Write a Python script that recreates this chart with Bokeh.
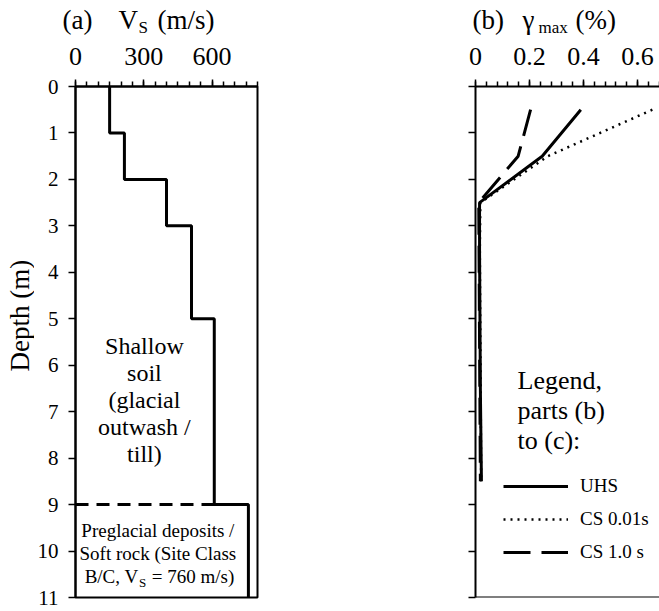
from bokeh.plotting import figure
from bokeh.layouts import row, column
from bokeh.models import Range1d, FixedTicker, Label, Legend, LegendItem, Span
from bokeh.embed import file_html
from bokeh.resources import INLINE
import math

FONT = "Liberation Serif"

# ---------------- data: panel (a) shear-wave velocity profile ----------------
layer_top = [0, 1, 2, 3, 5, 9]
layer_bottom = [1, 2, 3, 5, 9, 11]
vs_values = [150, 215, 400, 510, 610, 760]
boundary_depth = 9

depth_ticks = [0, 1, 2, 3, 4, 5, 6, 7, 8, 9, 10, 11]
vs_major_ticks = [0, 300, 600]
vs_minor_ticks = [0, 50, 100, 150, 200, 250, 300, 350, 400, 450, 500, 550, 600, 650, 700, 750, 800]

# ---------------- data: panel (b) maximum shear strain ----------------
gamma_depth = [0.5, 1.5, 2.5, 3.5, 4.5, 5.5, 6.5, 7.5, 8.5]
gamma_uhs = [0.39, 0.247, 0.015, 0.015, 0.016, 0.017, 0.018, 0.020, 0.022]
gamma_cs001 = [0.655, 0.268, 0.018, 0.016, 0.017, 0.018, 0.019, 0.020, 0.021]
gamma_cs10 = [0.204, 0.158, 0.012, 0.013, 0.014, 0.015, 0.016, 0.017, 0.018]
gamma_major_ticks = [0, 0.2, 0.4, 0.6]
gamma_minor_ticks = [0, 0.04, 0.08, 0.12, 0.16, 0.2, 0.24, 0.28, 0.32, 0.36, 0.4,
                     0.44, 0.48, 0.52, 0.56, 0.6, 0.64, 0.68]

TITLE_H = 38
H = 611 - TITLE_H
STRIP_W = 34


def blank_fig(w, h):
    f = figure(width=w, height=h, x_range=Range1d(0, w), y_range=Range1d(h, 0),
               x_axis_type=None, y_axis_type=None, toolbar_location=None,
               output_backend="svg", min_border=0)
    f.outline_line_color = None
    f.xgrid.visible = False
    f.ygrid.visible = False
    return f


def lab(p, x, y, text, size, align="left", angle=0.0):
    p.add_layout(Label(x=x, y=y, text=text, text_font=FONT, text_font_size=f"{size}px",
                       text_align=align, text_baseline="alphabetic", text_color="black",
                       angle=angle))


def style_axes(p, top_major, top_minor, show_left_labels):
    xa = p.xaxis[0]
    xa.ticker = FixedTicker(ticks=top_major, minor_ticks=top_minor)
    xa.axis_line_width = 2
    xa.major_tick_line_width = 1.5
    xa.minor_tick_line_width = 1.5
    xa.major_tick_in = 0
    xa.minor_tick_in = 0
    xa.major_tick_out = 7
    xa.minor_tick_out = 5
    xa.major_label_text_font = FONT
    xa.major_label_text_font_size = "26px"
    xa.major_label_text_color = "black"
    xa.major_label_standoff = 15
    ya = p.yaxis[0]
    ya.axis_line_width = 2
    if show_left_labels:
        ya.ticker = FixedTicker(ticks=depth_ticks, minor_ticks=[])
        ya.major_tick_line_width = 1.5
        ya.major_tick_in = 0
        ya.major_tick_out = 7
        ya.major_label_text_font = FONT
        ya.major_label_text_font_size = "21px"
        ya.major_label_text_color = "black"
        ya.major_label_standoff = 10
    else:
        ya.ticker = FixedTicker(ticks=[], minor_ticks=depth_ticks)
        ya.minor_tick_line_width = 1.5
        ya.minor_tick_in = 0
        ya.minor_tick_out = 7
    p.xgrid.visible = False
    p.ygrid.visible = False


# Label y is the centre of the text's em box; shift from the baseline
def em_center(baseline_px, size):
    return baseline_px - 0.3375 * size


# ---------------- title strip ----------------
tf = blank_fig(659, TITLE_H)
MAIN, SUB = 27, 17
lab(tf, 62, em_center(28.5, MAIN), "(a)", MAIN)
lab(tf, 118, em_center(28.5, MAIN), "V", MAIN)
lab(tf, 138, em_center(33, SUB), "S", SUB)
lab(tf, 157, em_center(28.5, MAIN), "(m/s)", MAIN)
lab(tf, 472, em_center(28.5, MAIN), "(b)", MAIN)
lab(tf, 522, em_center(28.5, MAIN), "\u03b3", MAIN)
lab(tf, 538, em_center(33, SUB), "max", SUB)
lab(tf, 575, em_center(28.5, MAIN), "(%)", MAIN)

# ---------------- depth label strip ----------------
df = blank_fig(STRIP_W, H)
lab(df, em_center(28.5, 27), 295 - TITLE_H, "Depth (m)", 27, align="center", angle=math.pi / 2)

# ---------------- panel (a) ----------------
A_TOP = 86
PX_PER_M_A = 513 / 11.0
pa = figure(width=400 - STRIP_W, height=H, x_range=Range1d(0, 800), y_range=Range1d(11, 0),
            x_axis_location="above", toolbar_location=None, output_backend="svg",
            min_border_left=75 - STRIP_W, min_border_right=400 - 75 - 182,
            min_border_top=A_TOP - TITLE_H, min_border_bottom=12)
style_axes(pa, vs_major_ticks, vs_minor_ticks, True)
pa.outline_line_color = "black"
pa.outline_line_width = 2

xs, ys = [], []
for t, b, v in zip(layer_top, layer_bottom, vs_values):
    xs += [v, v]
    ys += [t, b]
pa.line(xs, ys, line_color="black", line_width=3)
idx = layer_bottom.index(boundary_depth)
pa.line([0, vs_values[idx]], [boundary_depth, boundary_depth], line_color="black",
        line_width=3, line_dash="13 8")


def depth_a(baseline_px, size):
    return (em_center(baseline_px, size) - A_TOP) / PX_PER_M_A


soil_lines = ["Shallow", "soil", "(glacial", "outwash /", "till)"]
for i, s in enumerate(soil_lines):
    lab(pa, 303, depth_a(355 + 27 * i, 24), s, 24, align="center")
rock_lines = ["Preglacial deposits /", "Soft rock (Site Class"]
for i, s in enumerate(rock_lines):
    lab(pa, 362, depth_a(538 + 23 * i, 19), s, 19, align="center")
lab(pa, 277, depth_a(584, 19), "B/C, V", 19, align="right")
lab(pa, 279, depth_a(588, 13), "S", 13, align="left")
lab(pa, 335, depth_a(584, 19), "= 760 m/s)", 19, align="left")

# ---------------- panel (b) ----------------
B_TOP = 84
PX_PER_M_B = 513 / 11.0
pb = figure(width=259, height=H, x_range=Range1d(0, 0.6815), y_range=Range1d(11, 0),
            x_axis_location="above", toolbar_location=None, output_backend="svg",
            min_border_left=75, min_border_right=0, min_border_top=B_TOP - TITLE_H,
            min_border_bottom=14)
style_axes(pb, gamma_major_ticks, gamma_minor_ticks, False)
pb.outline_line_color = None
pb.add_layout(Span(location=11, dimension="width", line_color="black", line_width=2))

r_uhs = pb.line(gamma_uhs, gamma_depth, line_color="black", line_width=3)
r_cs001 = pb.line(gamma_cs001, gamma_depth, line_color="black", line_width=2.5, line_dash="2 5")
r_cs10 = pb.line(gamma_cs10, gamma_depth, line_color="black", line_width=3, line_dash="27 11")

legend = Legend(items=[LegendItem(label="UHS", renderers=[r_uhs]),
                       LegendItem(label="CS 0.01s", renderers=[r_cs001]),
                       LegendItem(label="CS 1.0 s", renderers=[r_cs10])],
                location=(28, 34), glyph_width=65, glyph_height=20, label_height=20,
                label_standoff=12, spacing=11, padding=0, margin=0,
                border_line_color=None, background_fill_alpha=0,
                label_text_font=FONT, label_text_font_size="19px", label_text_color="black")
pb.add_layout(legend)


def depth_b(baseline_px, size):
    return (em_center(baseline_px, size) - B_TOP) / PX_PER_M_B


legend_title = ["Legend,", "parts (b)", "to (c):"]
for i, s in enumerate(legend_title):
    lab(pb, 0.1556, depth_b(388 + 30 * i, 26), s, 26)

layout = column(tf, row(df, pa, pb))
open("out.html", "w").write(file_html(layout, INLINE))
